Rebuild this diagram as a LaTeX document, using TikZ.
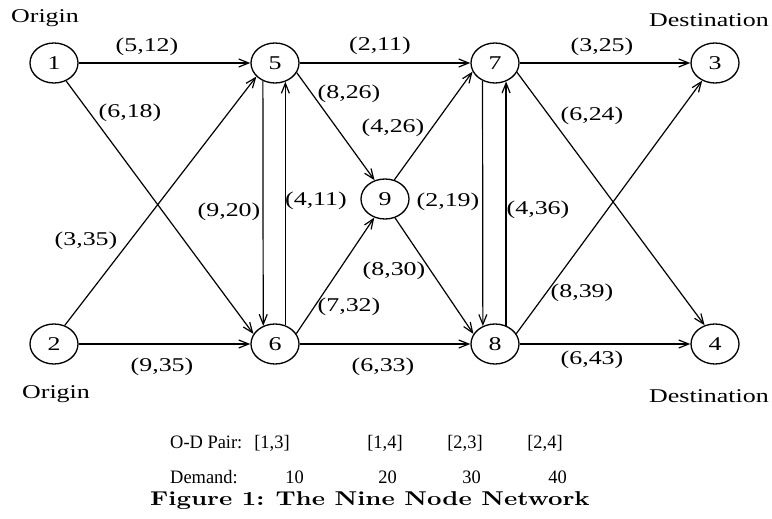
\documentclass[tikz,border=0pt]{standalone}
\usepackage{fontspec}
\setmainfont{Liberation Serif}[FakeStretch=1.33]
\newfontfamily\tabfont{Liberation Serif}[FakeStretch=0.97]
\newfontfamily\capfont{lmroman10-bold}[Extension=.otf,FakeStretch=1.26]
\usetikzlibrary{shapes.geometric,arrows.meta}

\tikzset{
  vert/.style={draw, ellipse, minimum width=48pt, minimum height=40pt,
               inner sep=0pt, line width=1.3pt},
  lab/.style={inner sep=0pt},
  tab/.style={inner sep=0pt, font=\tabfont\fontsize{19}{22}\selectfont},
  arc/.style={line width=1.2pt, -{Straight Barb[length=10pt,width=8pt]}},
}

\begin{document}
\begin{tikzpicture}[x=1pt,y=-1pt,
  every node/.style={font=\fontsize{19.5}{22}\selectfont}]
\useasboundingbox (0,0) rectangle (772,519);

% vertices
\node[vert] (n1) at (54,63)  {1};
\node[vert] (n5) at (275,63) {5};
\node[vert] (n7) at (495,63) {7};
\node[vert] (n3) at (715,63) {3};
\node[vert] (n2) at (54,344)  {2};
\node[vert] (n6) at (275,344) {6};
\node[vert] (n8) at (495,344) {8};
\node[vert] (n4) at (715,344) {4};
\node[vert] (n9) at (385,199) {9};

% origin / destination tags
\node[lab] (o1) at (45,18)   {Origin};
\node[lab] (o2) at (56,394)  {Origin};
\node[lab] (d3) at (709,20)  {Destination};
\node[lab] (d4) at (709,396) {Destination};

% links
\draw[arc] (n1) -- (n5);
\draw[arc] (n1.-56.5) -- (n6.155.3);
\draw[arc] (n2.60.5) -- (n5.216.5);
\draw[arc] (n2) -- (n6);
\draw[arc] (n5.236.2) -- (n6.123.8);
\draw[arc] (n6.61.2) -- (n5.-61.2);
\draw[arc] (n5.-24.3) -- (n9.119.5);
\draw[arc] (n6.26.2) -- (n9.240.9);
\draw[arc] (n5) -- (n7);
\draw[arc] (n6) -- (n8);
\draw[arc] (n9.64.2) -- (n7.201.5);
\draw[arc] (n9.-62.6) -- (n8.155.3);
\draw[arc] (n7.235.3) -- (n8.124.7);
\draw[arc] (n8.59.1) -- (n7.-59.1);
\draw[arc] (n7) -- (n3);
\draw[arc] (n7.-23) -- (n4.119.5);
\draw[arc] (n8.26.2) -- (n3.234);
\draw[arc] (n8) -- (n4);

% link labels (cost, capacity)
\node[lab] (e15) at (147,47)  {(5,12)};
\node[lab] (e16) at (130,113) {(6,18)};
\node[lab] (e25) at (86,241)  {(3,35)};
\node[lab] (e26) at (162,367) {(9,35)};
\node[lab] (e56) at (229,212) {(9,20)};
\node[lab] (e65) at (316,201) {(4,11)};
\node[lab] (e59) at (349,94)  {(8,26)};
\node[lab] (e97) at (393,128) {(4,26)};
\node[lab] (e69) at (349,307) {(7,32)};
\node[lab] (e98) at (394,271) {(8,30)};
\node[lab] (e57) at (380,46)  {(2,11)};
\node[lab] (e68) at (383,367) {(6,33)};
\node[lab] (e78) at (448,202) {(2,19)};
\node[lab] (e87) at (538,210) {(4,36)};
\node[lab] (e73) at (602,47)  {(3,25)};
\node[lab] (e74) at (592,116) {(6,24)};
\node[lab] (e83) at (582,293) {(8,39)};
\node[lab] (e84) at (592,360) {(6,43)};

% demand table
\node[tab, anchor=base west] (tp) at (170,448) {O-D Pair:};
\node[tab, anchor=base] (p13) at (272,448) {[1,3]};
\node[tab, anchor=base] (p14) at (385,448) {[1,4]};
\node[tab, anchor=base] (p23) at (465,448) {[2,3]};
\node[tab, anchor=base] (p24) at (545,448) {[2,4]};
\node[tab, anchor=base west] (td) at (170,483) {Demand:};
\node[tab, anchor=base] (q13) at (294.5,483) {10};
\node[tab, anchor=base] (q14) at (387.5,483) {20};
\node[tab, anchor=base] (q23) at (471.5,483) {30};
\node[tab, anchor=base] (q24) at (557.5,483) {40};

% caption
\node[lab, anchor=base, font=\capfont\fontsize{20}{22}\selectfont] (cap) at (370,505)
  {Figure 1:\hspace{0.55em}The Nine Node Network};
\end{tikzpicture}
\end{document}
